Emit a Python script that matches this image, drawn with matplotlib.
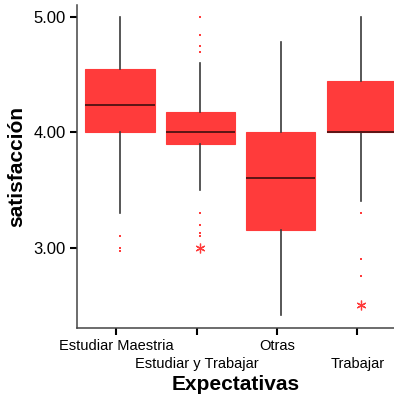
import matplotlib.pyplot as plt
import matplotlib.transforms as mtransforms
import numpy as np

plt.rcParams['font.family'] = ['Liberation Sans', 'DejaVu Sans']

categorias = ['Estudiar Maestria', 'Estudiar y Trabajar', 'Otras', 'Trabajar']
q1 = [4.00, 3.90, 3.15, 4.00]
mediana = [4.235, 4.00, 3.60, 4.00]
q3 = [4.55, 4.18, 4.00, 4.45]
bigote_inf = [3.30, 3.50, 2.41, 3.40]
bigote_sup = [5.00, 4.60, 4.79, 5.00]
atipicos = [[3.10, 3.00, 2.97],
            [5.00, 4.85, 4.75, 4.70, 3.30, 3.20, 3.13, 3.10],
            [],
            [3.30, 2.90, 2.75]]
extremos = [[], [3.00], [], [2.50]]

rojo = '#ff3b3b'
pos = np.arange(1, len(categorias) + 1)
desp = 0.047

fig = plt.figure(figsize=(3.94, 4.01), dpi=100)
ax = fig.add_axes([0.195, 0.182, 0.805, 0.806])

stats = []
for i, c in enumerate(categorias):
    stats.append(dict(label=c, q1=q1[i], med=mediana[i], q3=q3[i],
                      whislo=bigote_inf[i], whishi=bigote_sup[i], fliers=[]))

ax.bxp(stats, positions=pos + desp, widths=0.862, patch_artist=True,
       showfliers=False, showcaps=False,
       boxprops=dict(facecolor=rojo, edgecolor=rojo, linewidth=0.8),
       medianprops=dict(color='#5a1515', linewidth=1.4),
       whiskerprops=dict(color='#3a3a3a', linewidth=1.2))

for i in range(len(categorias)):
    if atipicos[i]:
        ax.plot([pos[i] + desp] * len(atipicos[i]), atipicos[i], 's',
                color=rojo, markersize=2.0, markeredgewidth=0)
    if extremos[i]:
        ax.plot([pos[i] + desp] * len(extremos[i]), extremos[i],
                linestyle='none', marker=(6, 2, 0), color=rojo,
                markersize=7, markeredgewidth=0.9)

ax.set_xlim(0.511, 4.454)
ax.set_ylim(2.30, 5.11)
ax.set_yticks([3, 4, 5])
ax.set_yticklabels(['3.00', '4.00', '5.00'], fontsize=12)
ax.set_xticks(pos)
ax.set_xticklabels(categorias, fontsize=10.5)
ax.tick_params(length=5, width=1.5, color='black', pad=3)

# etiquetas escalonadas: la 2a y 4a van una fila mas abajo
bajar = mtransforms.ScaledTranslation(0, -0.175, fig.dpi_scale_trans)
for i, lab in enumerate(ax.get_xticklabels()):
    if i % 2 == 1:
        lab.set_transform(lab.get_transform() + bajar)

for s in ['top', 'right']:
    ax.spines[s].set_visible(False)
for s in ['left', 'bottom']:
    ax.spines[s].set_color('#444444')
    ax.spines[s].set_linewidth(1.1)

ax.set_xlabel('Expectativas', fontsize=15, fontweight='bold')
ax.xaxis.set_label_coords(0.5, -0.145)
ax.set_ylabel('satisfacción', fontsize=15, fontweight='bold', labelpad=5)

fig.savefig('out.png', dpi=100)
